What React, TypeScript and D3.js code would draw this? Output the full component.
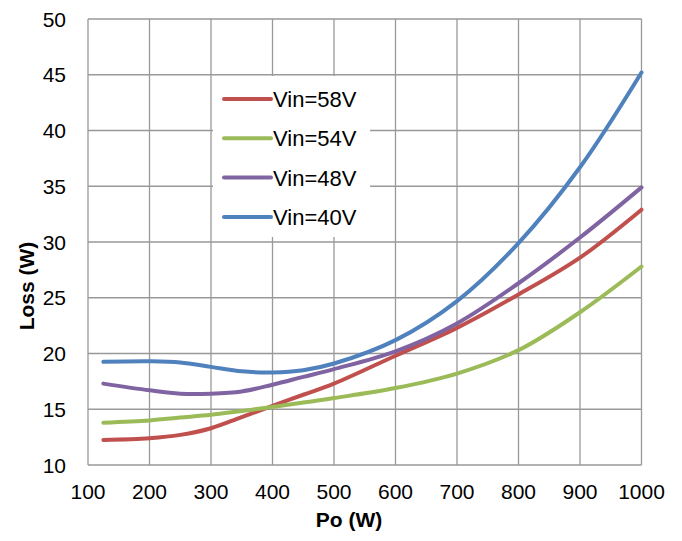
import React, { useEffect, useRef } from 'react';
import * as d3 from 'd3';

const po = [125, 200, 250, 300, 350, 400, 450, 500, 600, 700, 800, 900, 1000];
const vin58 = [12.25, 12.4, 12.7, 13.3, 14.3, 15.3, 16.3, 17.3, 19.8, 22.3, 25.3, 28.6, 32.9];
const vin54 = [13.8, 14.0, 14.25, 14.5, 14.85, 15.2, 15.6, 16.0, 16.9, 18.2, 20.3, 23.7, 27.8];
const vin48 = [17.3, 16.7, 16.4, 16.4, 16.6, 17.2, 17.9, 18.6, 20.2, 22.7, 26.3, 30.4, 34.9];
const vin40 = [19.25, 19.3, 19.2, 18.8, 18.4, 18.3, 18.5, 19.1, 21.2, 24.7, 29.9, 36.7, 45.2];

const seriesNames = ['Vin=58V', 'Vin=54V', 'Vin=48V', 'Vin=40V'];
const seriesValues = [vin58, vin54, vin48, vin40];
const seriesColors = ['#C0504D', '#9BBB59', '#8064A2', '#4F81BD'];

const xTicks = [100, 200, 300, 400, 500, 600, 700, 800, 900, 1000];
const yTicks = [10, 15, 20, 25, 30, 35, 40, 45, 50];

function App() {
  const ref = useRef<SVGSVGElement>(null);

  useEffect(() => {
    const width = 682;
    const height = 541;
    const left = 88;
    const right = 641.5;
    const top = 19;
    const bottom = 465;
    const font = 'Liberation Sans, Arial, sans-serif';

    const svg = d3.select(ref.current);
    svg.selectAll('*').remove();
    svg.attr('width', width).attr('height', height);

    const x = d3.scaleLinear().domain([100, 1000]).range([left, right]);
    const y = d3.scaleLinear().domain([10, 50]).range([bottom, top]);

    const grid = svg.append('g').attr('stroke', '#999').attr('stroke-width', 1.3);
    grid
      .selectAll('line.v')
      .data(xTicks)
      .join('line')
      .attr('x1', (d) => x(d))
      .attr('x2', (d) => x(d))
      .attr('y1', top)
      .attr('y2', bottom);
    grid
      .selectAll('line.h')
      .data(yTicks)
      .join('line')
      .attr('x1', left)
      .attr('x2', right)
      .attr('y1', (d) => y(d))
      .attr('y2', (d) => y(d));

    svg
      .append('g')
      .selectAll('text')
      .data(yTicks)
      .join('text')
      .attr('x', 66)
      .attr('y', (d) => y(d))
      .attr('dy', '0.36em')
      .attr('text-anchor', 'end')
      .attr('font-family', font)
      .attr('font-size', 21)
      .attr('fill', '#000')
      .text((d) => d);

    svg
      .append('g')
      .selectAll('text')
      .data(xTicks)
      .join('text')
      .attr('x', (d) => x(d))
      .attr('y', 499)
      .attr('text-anchor', 'middle')
      .attr('font-family', font)
      .attr('font-size', 21)
      .attr('fill', '#000')
      .text((d) => d);

    const line = d3
      .line<number>()
      .x((_, i) => x(po[i]))
      .y((d) => y(d))
      .curve(d3.curveCatmullRom.alpha(0.5));

    svg
      .append('g')
      .selectAll('path')
      .data(seriesValues)
      .join('path')
      .attr('d', (d) => line(d))
      .attr('fill', 'none')
      .attr('stroke', (_, i) => seriesColors[i])
      .attr('stroke-width', 4)
      .attr('stroke-linecap', 'round');

    // legend
    const lg = svg.append('g');
    lg.append('rect')
      .attr('x', 213)
      .attr('y', 76)
      .attr('width', 157)
      .attr('height', 161)
      .attr('fill', '#fff');
    const rows = lg
      .selectAll('g')
      .data(seriesNames)
      .join('g')
      .attr('transform', (_, i) => `translate(0,${99 + i * 39.3})`);
    rows
      .append('line')
      .attr('x1', 224)
      .attr('x2', 271)
      .attr('stroke', (_, i) => seriesColors[i])
      .attr('stroke-width', 4)
      .attr('stroke-linecap', 'round');
    rows
      .append('text')
      .attr('x', 273)
      .attr('y', 8)
      .attr('font-family', font)
      .attr('font-size', 22)
      .attr('fill', '#000')
      .text((d) => d);

    svg
      .append('text')
      .attr('x', 349)
      .attr('y', 527)
      .attr('text-anchor', 'middle')
      .attr('font-family', font)
      .attr('font-size', 21)
      .attr('font-weight', 'bold')
      .text('Po (W)');

    svg
      .append('text')
      .attr('transform', 'translate(34,286) rotate(-90)')
      .attr('text-anchor', 'middle')
      .attr('font-family', font)
      .attr('font-size', 21)
      .attr('font-weight', 'bold')
      .text('Loss (W)');
  }, []);

  return <svg ref={ref} style={{ position: 'absolute', left: 0, top: 0 }} />;
}

export default App;
